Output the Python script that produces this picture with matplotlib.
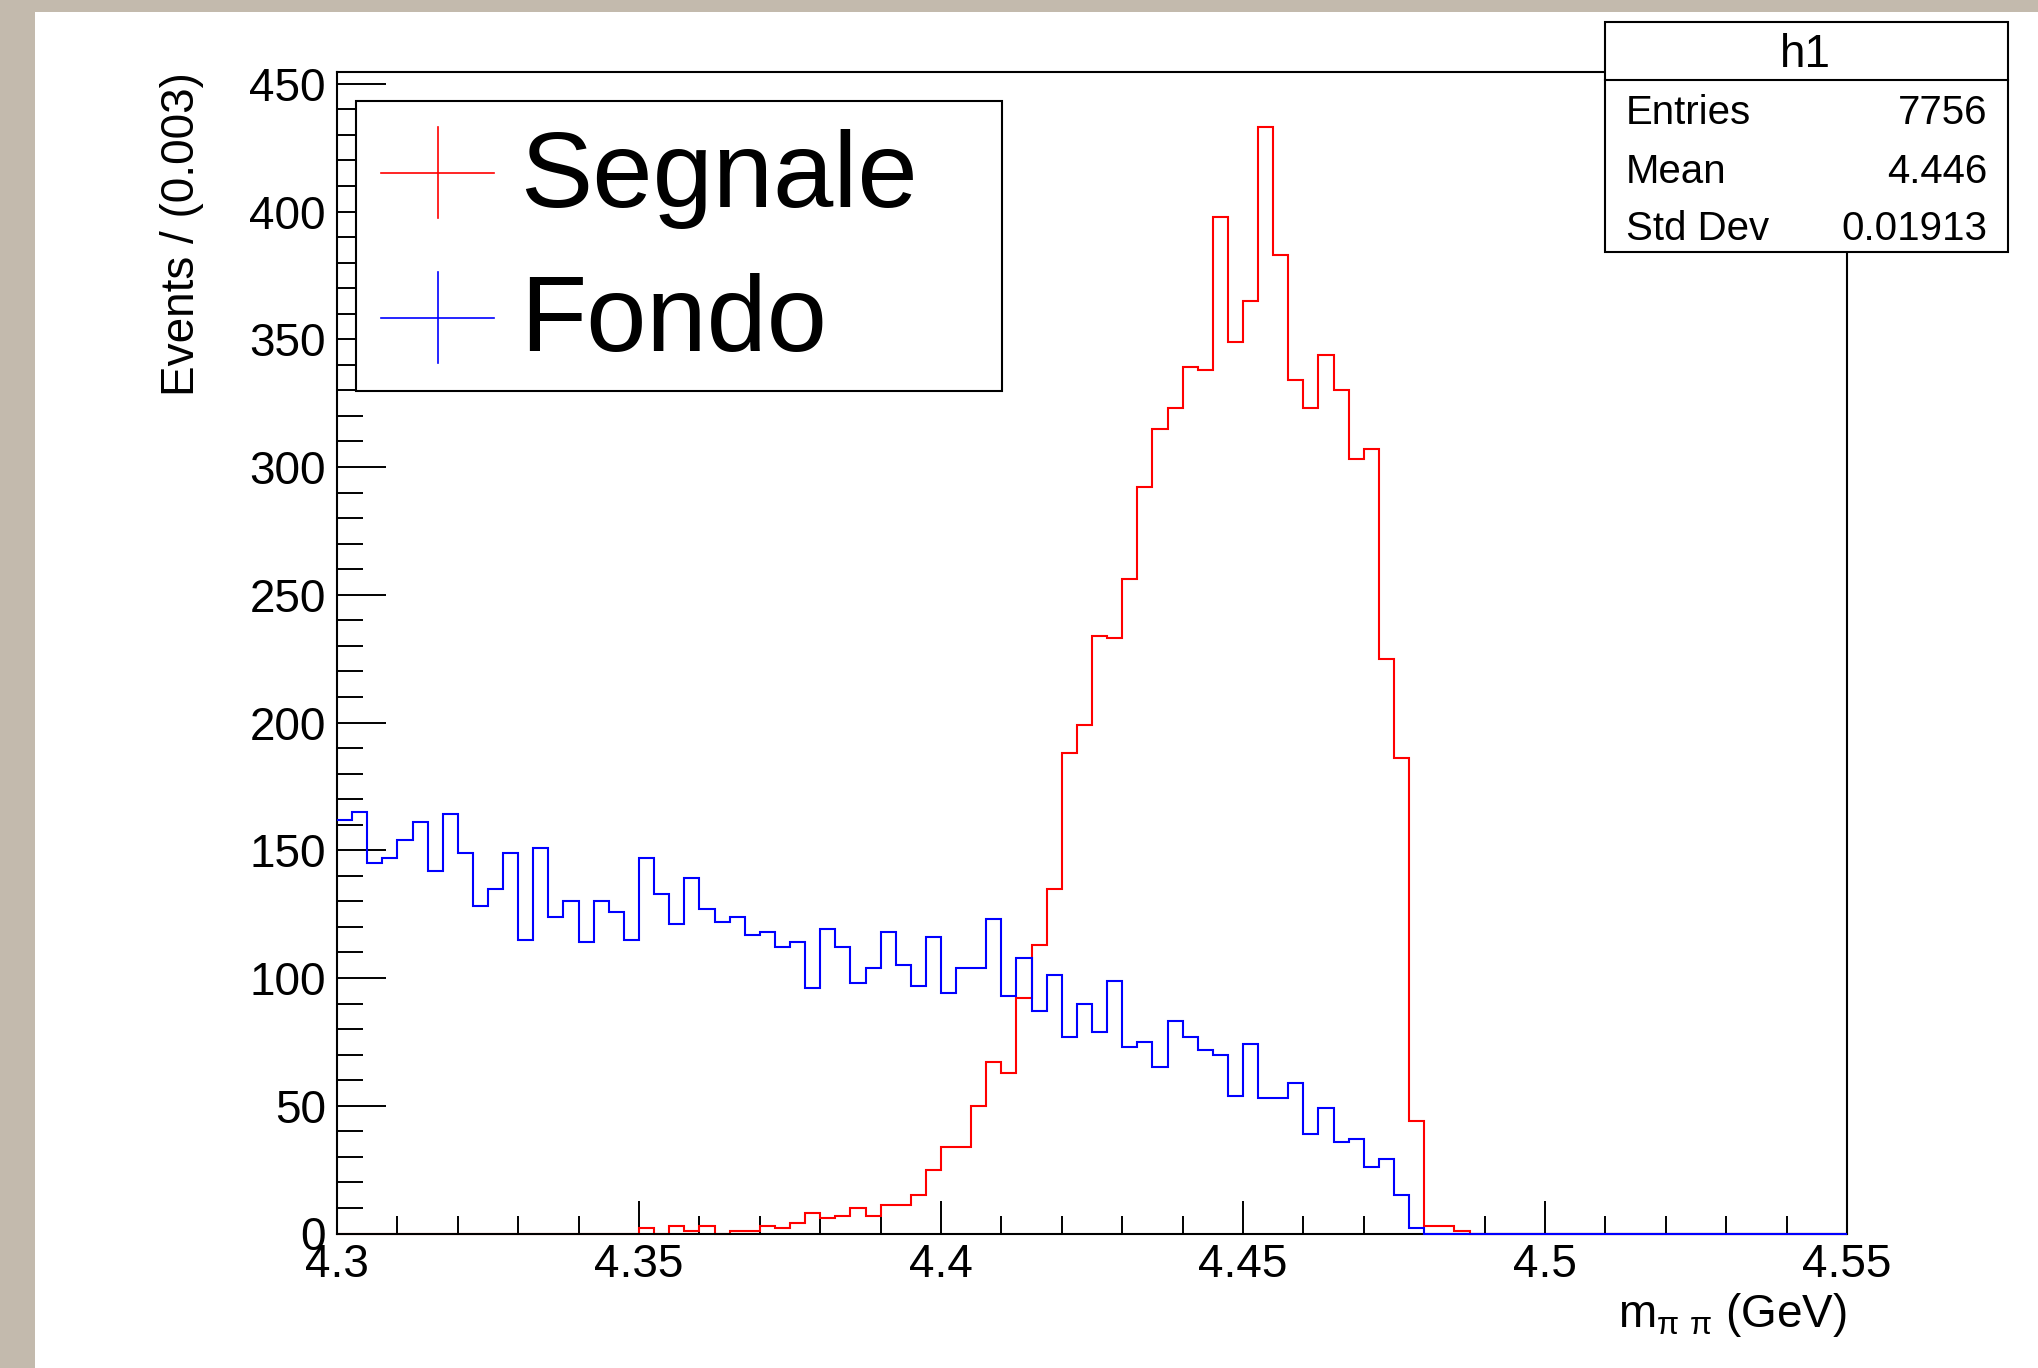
import numpy as np
import matplotlib

matplotlib.use("Agg")

import matplotlib.pyplot as plt
from matplotlib.ticker import MultipleLocator, FuncFormatter
from matplotlib.patches import Rectangle

plt.rcParams["font.family"] = ["Liberation Sans", "DejaVu Sans"]
plt.rcParams["mathtext.fontset"] = "custom"
plt.rcParams["mathtext.rm"] = "Liberation Sans"

# binning of the histograms
x_min, x_max, n_bins = 4.3, 4.55, 100

# signal (h1), counts per bin
segnale = [
    0, 0, 0, 0, 0, 0, 0, 0, 0, 0,
    0, 0, 0, 0, 0, 0, 0, 0, 0, 0,
    2, 0, 3, 1, 3, 0, 1, 1, 3, 2,
    4, 8, 6, 7, 10, 7, 11, 11, 15, 25,
    34, 34, 50, 67, 63, 92, 113, 135, 188, 199,
    234, 233, 256, 292, 315, 323, 339, 338, 398, 349,
    365, 433, 383, 334, 323, 344, 330, 303, 307, 225,
    186, 44, 3, 3, 1, 0, 0, 0, 0, 0,
    0, 0, 0, 0, 0, 0, 0, 0, 0, 0,
    0, 0, 0, 0, 0, 0, 0, 0, 0, 0,
]

# background
fondo = [
    162, 165, 145, 147, 154, 161, 142, 164, 149, 128,
    135, 149, 115, 151, 124, 130, 114, 130, 126, 115,
    147, 133, 121, 139, 127, 122, 124, 117, 118, 112,
    114, 96, 119, 112, 98, 104, 118, 105, 97, 116,
    94, 104, 104, 123, 93, 108, 87, 101, 77, 90,
    79, 99, 73, 75, 65, 83, 77, 72, 70, 54,
    74, 53, 53, 59, 39, 49, 36, 37, 26, 29,
    15, 2, 0, 0, 0, 0, 0, 0, 0, 0,
    0, 0, 0, 0, 0, 0, 0, 0, 0, 0,
    0, 0, 0, 0, 0, 0, 0, 0, 0, 0,
]

legend_labels = ["Segnale", "Fondo"]
stats_title = "h1"
stats_labels = ["Entries", "Mean", "Std Dev"]
stats_values = ["7756", "4.446", "0.01913"]

W, H = 2038, 1368
fig = plt.figure(figsize=(W / 100, H / 100), dpi=100)
fig.patch.set_facecolor("white")

# main frame, in pixel positions of the canvas
left, right, top, bottom = 337, 1847, 72, 1233.5
ax = fig.add_axes([left / W, 1 - bottom / H, (right - left) / W, (bottom - top) / H])

edges = np.linspace(x_min, x_max, n_bins + 1)
ax.stairs(segnale, edges, baseline=None, color="#ff0000", lw=1.5, zorder=2, clip_on=False)
ax.stairs(fondo, edges, baseline=None, color="#0000ff", lw=1.5, zorder=3, clip_on=False)

ax.set_xlim(x_min, x_max)
ax.set_ylim(0, 454.6)

ax.xaxis.set_major_locator(MultipleLocator(0.05))
ax.xaxis.set_minor_locator(MultipleLocator(0.01))
ax.yaxis.set_major_locator(MultipleLocator(50))
ax.yaxis.set_minor_locator(MultipleLocator(10))
ax.xaxis.set_major_formatter(FuncFormatter(lambda v, p: f"{round(v, 4):g}"))
ax.yaxis.set_major_formatter(FuncFormatter(lambda v, p: f"{round(v):g}"))

ax.tick_params(which="both", direction="in", top=False, right=False, width=1.4, color="black")
ax.tick_params(axis="y", which="major", length=35, pad=8, labelsize=33)
ax.tick_params(axis="y", which="minor", length=19)
ax.tick_params(axis="x", which="major", length=24, pad=7, labelsize=33)
ax.tick_params(axis="x", which="minor", length=13)
for sp in ax.spines.values():
    sp.set_linewidth(1.5)

# overlay in canvas pixels for legend, stats box and titles
ov = fig.add_axes([0, 0, 1, 1])
ov.set_xlim(0, W)
ov.set_ylim(H, 0)
ov.axis("off")

beige = "#c3baad"
ov.add_patch(Rectangle((0, 0), 35, H, facecolor=beige, edgecolor="none"))
ov.add_patch(Rectangle((0, 0), W, 12, facecolor=beige, edgecolor="none"))

ov.text(182, 72, "Events / (0.003)", rotation=90, ha="center", va="top", fontsize=33)
ov.text(1847, 1315, "m$_{\\mathregular{π\\ π}}$ (GeV)", ha="right", va="center", fontsize=33)

# legend
ov.add_patch(Rectangle((356, 101), 646, 290, facecolor="white", edgecolor="black", lw=1.5))
colors = ["#ff0000", "#0000ff"]
rows_y = [173, 318]
base_y = [207, 351]
for lab, c, cy, by in zip(legend_labels, colors, rows_y, base_y):
    ov.plot([381, 494], [cy, cy], color=c, lw=1.2)
    ov.plot([438, 438], [cy - 46, cy + 45], color=c, lw=1.2)
    ov.text(520, by, lab, ha="left", va="baseline", fontsize=78)

# stats box
ov.add_patch(Rectangle((1605, 22), 403, 230, facecolor="white", edgecolor="black", lw=1.5))
ov.plot([1605, 2008], [80, 80], color="black", lw=1.5)
ov.text(1805, 67, stats_title, ha="center", va="baseline", fontsize=33)
for lab, val, by in zip(stats_labels, stats_values, [124, 183, 240]):
    ov.text(1626, by, lab, ha="left", va="baseline", fontsize=29)
    ov.text(1987, by, val, ha="right", va="baseline", fontsize=29)

fig.savefig("out.png", dpi=100)
